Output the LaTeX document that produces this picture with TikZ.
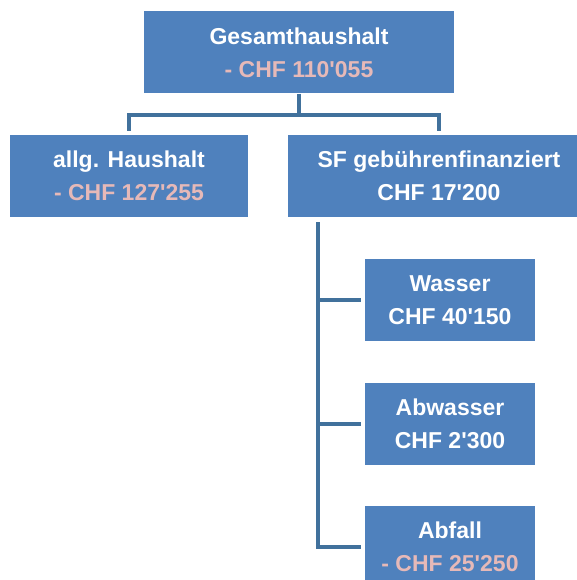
\documentclass[tikz,border=0pt]{standalone}
\usepackage{fontspec}
\setmainfont{Liberation Sans}
\usetikzlibrary{positioning}
\definecolor{boxblue}{HTML}{4F81BD}
\definecolor{lineblue}{HTML}{41719C}
\definecolor{minuspink}{HTML}{E6B9B8}
\newcommand{\minusval}[1]{\textcolor{minuspink}{#1}}
\newcommand{\ap}{\textquotesingle}
\tikzset{
  box/.style={fill=boxblue,text=white,font=\bfseries\fontsize{23}{33}\selectfont,
    align=center,inner sep=0pt,minimum height=82pt},
  conn/.style={lineblue,line width=4pt},
}
\begin{document}
\begin{tikzpicture}[x=1pt,y=-1pt]
\useasboundingbox (0,0) rectangle (577,580);
% top level
\node[box,minimum width=310pt](ges)at(299,52.5){Gesamthaushalt\\\minusval{- CHF 110\ap055}};
% second level
\node[box,minimum width=238pt](allg)at(129,176){allg. Haushalt\\\minusval{- CHF 127\ap255}};
\node[box,minimum width=302pt](sf)at(439,176){SF gebührenfinanziert\\CHF 17\ap200};
% third level
\node[box,minimum width=170pt](wasser)at(450,300){Wasser\\CHF 40\ap150};
\node[box,minimum width=170pt](abwasser)at(450,423.5){Abwasser\\CHF 2\ap300};
\node[box,minimum width=170pt](abfall)at(450,547){Abfall\\\minusval{- CHF 25\ap250}};
% connectors
\draw[conn](ges.south)--++(0,21)coordinate(fork);
\draw[conn,shorten >=4pt](fork)-|(allg.north);
\draw[conn,shorten >=4pt](fork)-|(sf.north);
\coordinate(trunk)at([xshift=30pt,yshift=-5pt]sf.south west);
\draw[conn](trunk)|-([xshift=-4pt]abfall.west);
\draw[conn,shorten >=4pt](trunk|-wasser.west)--(wasser.west);
\draw[conn,shorten >=4pt](trunk|-abwasser.west)--(abwasser.west);
\end{tikzpicture}
\end{document}
